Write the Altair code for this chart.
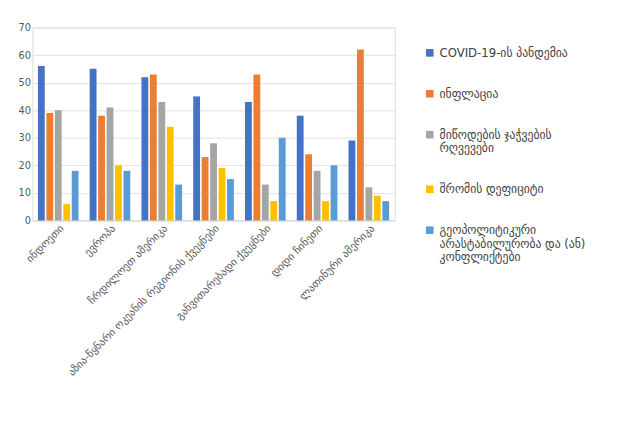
import altair as alt
import pandas as pd

regions = ["ინდოეთი", "ევროპა", "ჩრდილოეთ ამერიკა", "აზია-წყნარი ოკეანის რეგიონის ქვეყნები",
           "განვითარებადი ქვეყნები", "დიდი ჩინეთი", "ლათინური ამერიკა"]
series = ["COVID-19-ის პანდემია", "ინფლაცია", "მიწოდების ჯაჭვების რღვევები",
          "შრომის დეფიციტი", "გეოპოლიტიკური არასტაბილურობა და (ან) კონფლიქტები"]
covid = [56, 55, 52, 45, 43, 38, 29]
inflation = [39, 38, 53, 23, 53, 24, 62]
supply = [40, 41, 43, 28, 13, 18, 12]
labour = [6, 20, 34, 19, 7, 7, 9]
geo = [18, 18, 13, 15, 30, 20, 7]
colors = ["#4472C4", "#ED7D31", "#A5A5A5", "#FFC000", "#5B9BD5"]

rows = []
for s, vals in zip(series, [covid, inflation, supply, labour, geo]):
    for r, v in zip(regions, vals):
        rows.append({"region": r, "series": s, "value": v})
df = pd.DataFrame(rows)

label_expr = ("datum.label == 'მიწოდების ჯაჭვების რღვევები' ? ['მიწოდების ჯაჭვების', 'რღვევები'] : "
              "datum.label == 'გეოპოლიტიკური არასტაბილურობა და (ან) კონფლიქტები' ? "
              "['გეოპოლიტიკური', 'არასტაბილურობა და (ან)', 'კონფლიქტები'] : datum.label")

chart = (
    alt.Chart(df)
    .mark_bar(size=7)
    .encode(
        x=alt.X("region:N", sort=regions, title=None,
                scale=alt.Scale(paddingInner=0.2, paddingOuter=0.1),
                axis=alt.Axis(labelAngle=-45, labelFontSize=11, labelColor="#595959",
                              ticks=False, domainColor="#d9d9d9", labelLimit=300)),
        xOffset=alt.XOffset("series:N", sort=series, scale=alt.Scale(paddingInner=0.1)),
        y=alt.Y("value:Q", title=None,
                scale=alt.Scale(domain=[0, 70]),
                axis=alt.Axis(values=list(range(0, 71, 10)), labelFontSize=10,
                              labelColor="#595959", domain=False, ticks=False,
                              gridColor="#e0e0e0")),
        color=alt.Color("series:N", sort=series, scale=alt.Scale(domain=series, range=colors),
                        legend=alt.Legend(title=None, symbolType="square", symbolSize=60,
                                          labelFontSize=12, labelColor="#404040",
                                          labelExpr=label_expr, labelLimit=200,
                                          rowPadding=30, offset=10, padding=20)),
    )
    .properties(width=372, height=198)
    .configure_view(stroke=None)
    .configure(font="DejaVu Sans", padding={"left": 10, "top": 10, "right": 6, "bottom": 6})
)

chart.save("out.html", embed_options={"renderer": "svg", "actions": False})
